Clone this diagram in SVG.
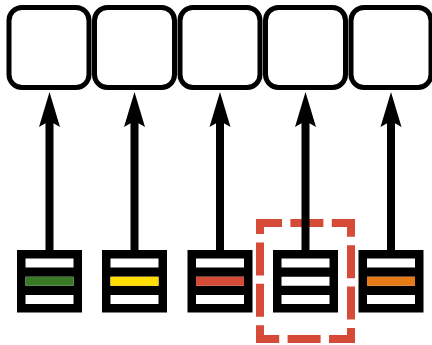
<svg xmlns="http://www.w3.org/2000/svg" width="432" height="345" viewBox="0 0 432 345">
  <style>
    .slot { fill: #ffffff; stroke: #000000; stroke-width: 5; }
    .shaft { stroke: #000000; stroke-width: 8; }
    .head { fill: #000000; }
    .frame { fill: #000000; }
    .strip { fill: #ffffff; }
    .sel { fill: none; stroke: #d64b37; stroke-width: 8; stroke-dasharray: 33 8.4; stroke-dashoffset: 11; stroke-linejoin: miter; }
  </style>
  <defs>
    <!-- stacked bucket: black frame with three strips -->
    <g id="bucket">
      <rect class="frame" x="-32.5" y="250" width="65" height="62.5"/>
      <rect class="strip" x="-24" y="258.5" width="48" height="9"/>
      <rect class="strip" x="-24" y="276.75" width="48" height="9"/>
      <rect class="strip" x="-24" y="295" width="48" height="9"/>
    </g>
  </defs>

  <!-- top slots -->
  <g id="slot1"><rect class="slot" x="9" y="7.5" width="80" height="80" rx="13"/></g>
  <g id="slot2"><rect class="slot" x="94.5" y="7.5" width="80" height="80" rx="13"/></g>
  <g id="slot3"><rect class="slot" x="180" y="7.5" width="80" height="80" rx="13"/></g>
  <g id="slot4"><rect class="slot" x="265.5" y="7.5" width="80" height="80" rx="13"/></g>
  <g id="slot5"><rect class="slot" x="351" y="7.5" width="80" height="80" rx="13"/></g>

  <!-- selection outline -->
  <g id="selection">
    <path class="sel" d="M260,223 H351 V339 H260 Z"/>
  </g>

  <!-- bottom buckets -->
  <g id="bucket1">
    <use href="#bucket" x="49.5"/>
    <rect x="25.5" y="276.75" width="48" height="9" fill="#3a7a26"/>
  </g>
  <g id="bucket2">
    <use href="#bucket" x="134.5"/>
    <rect x="110.5" y="276.75" width="48" height="9" fill="#ffdd00"/>
  </g>
  <g id="bucket3">
    <use href="#bucket" x="220"/>
    <rect x="196" y="276.75" width="48" height="9" fill="#d64b37"/>
  </g>
  <g id="bucket4">
    <use href="#bucket" x="305.5"/>
  </g>
  <g id="bucket5">
    <use href="#bucket" x="391"/>
    <rect x="367" y="276.75" width="48" height="9" fill="#e67a16"/>
  </g>

  <!-- connectors: bucket to slot -->
  <g id="connectors">
    <line class="shaft" x1="49.5" y1="251" x2="49.5" y2="120"/>
    <path class="head" d="M49.5,92 L60,127 L49.5,121 L39,127 Z"/>
    <line class="shaft" x1="134.5" y1="251" x2="134.5" y2="120"/>
    <path class="head" d="M134.5,92 L145,127 L134.5,121 L124,127 Z"/>
    <line class="shaft" x1="220" y1="251" x2="220" y2="120"/>
    <path class="head" d="M220,92 L230.5,127 L220,121 L209.5,127 Z"/>
    <line class="shaft" x1="305.5" y1="251" x2="305.5" y2="120"/>
    <path class="head" d="M305.5,92 L316,127 L305.5,121 L295,127 Z"/>
    <line class="shaft" x1="391" y1="251" x2="391" y2="120"/>
    <path class="head" d="M391,92 L401.5,127 L391,121 L380.5,127 Z"/>
  </g>
</svg>
